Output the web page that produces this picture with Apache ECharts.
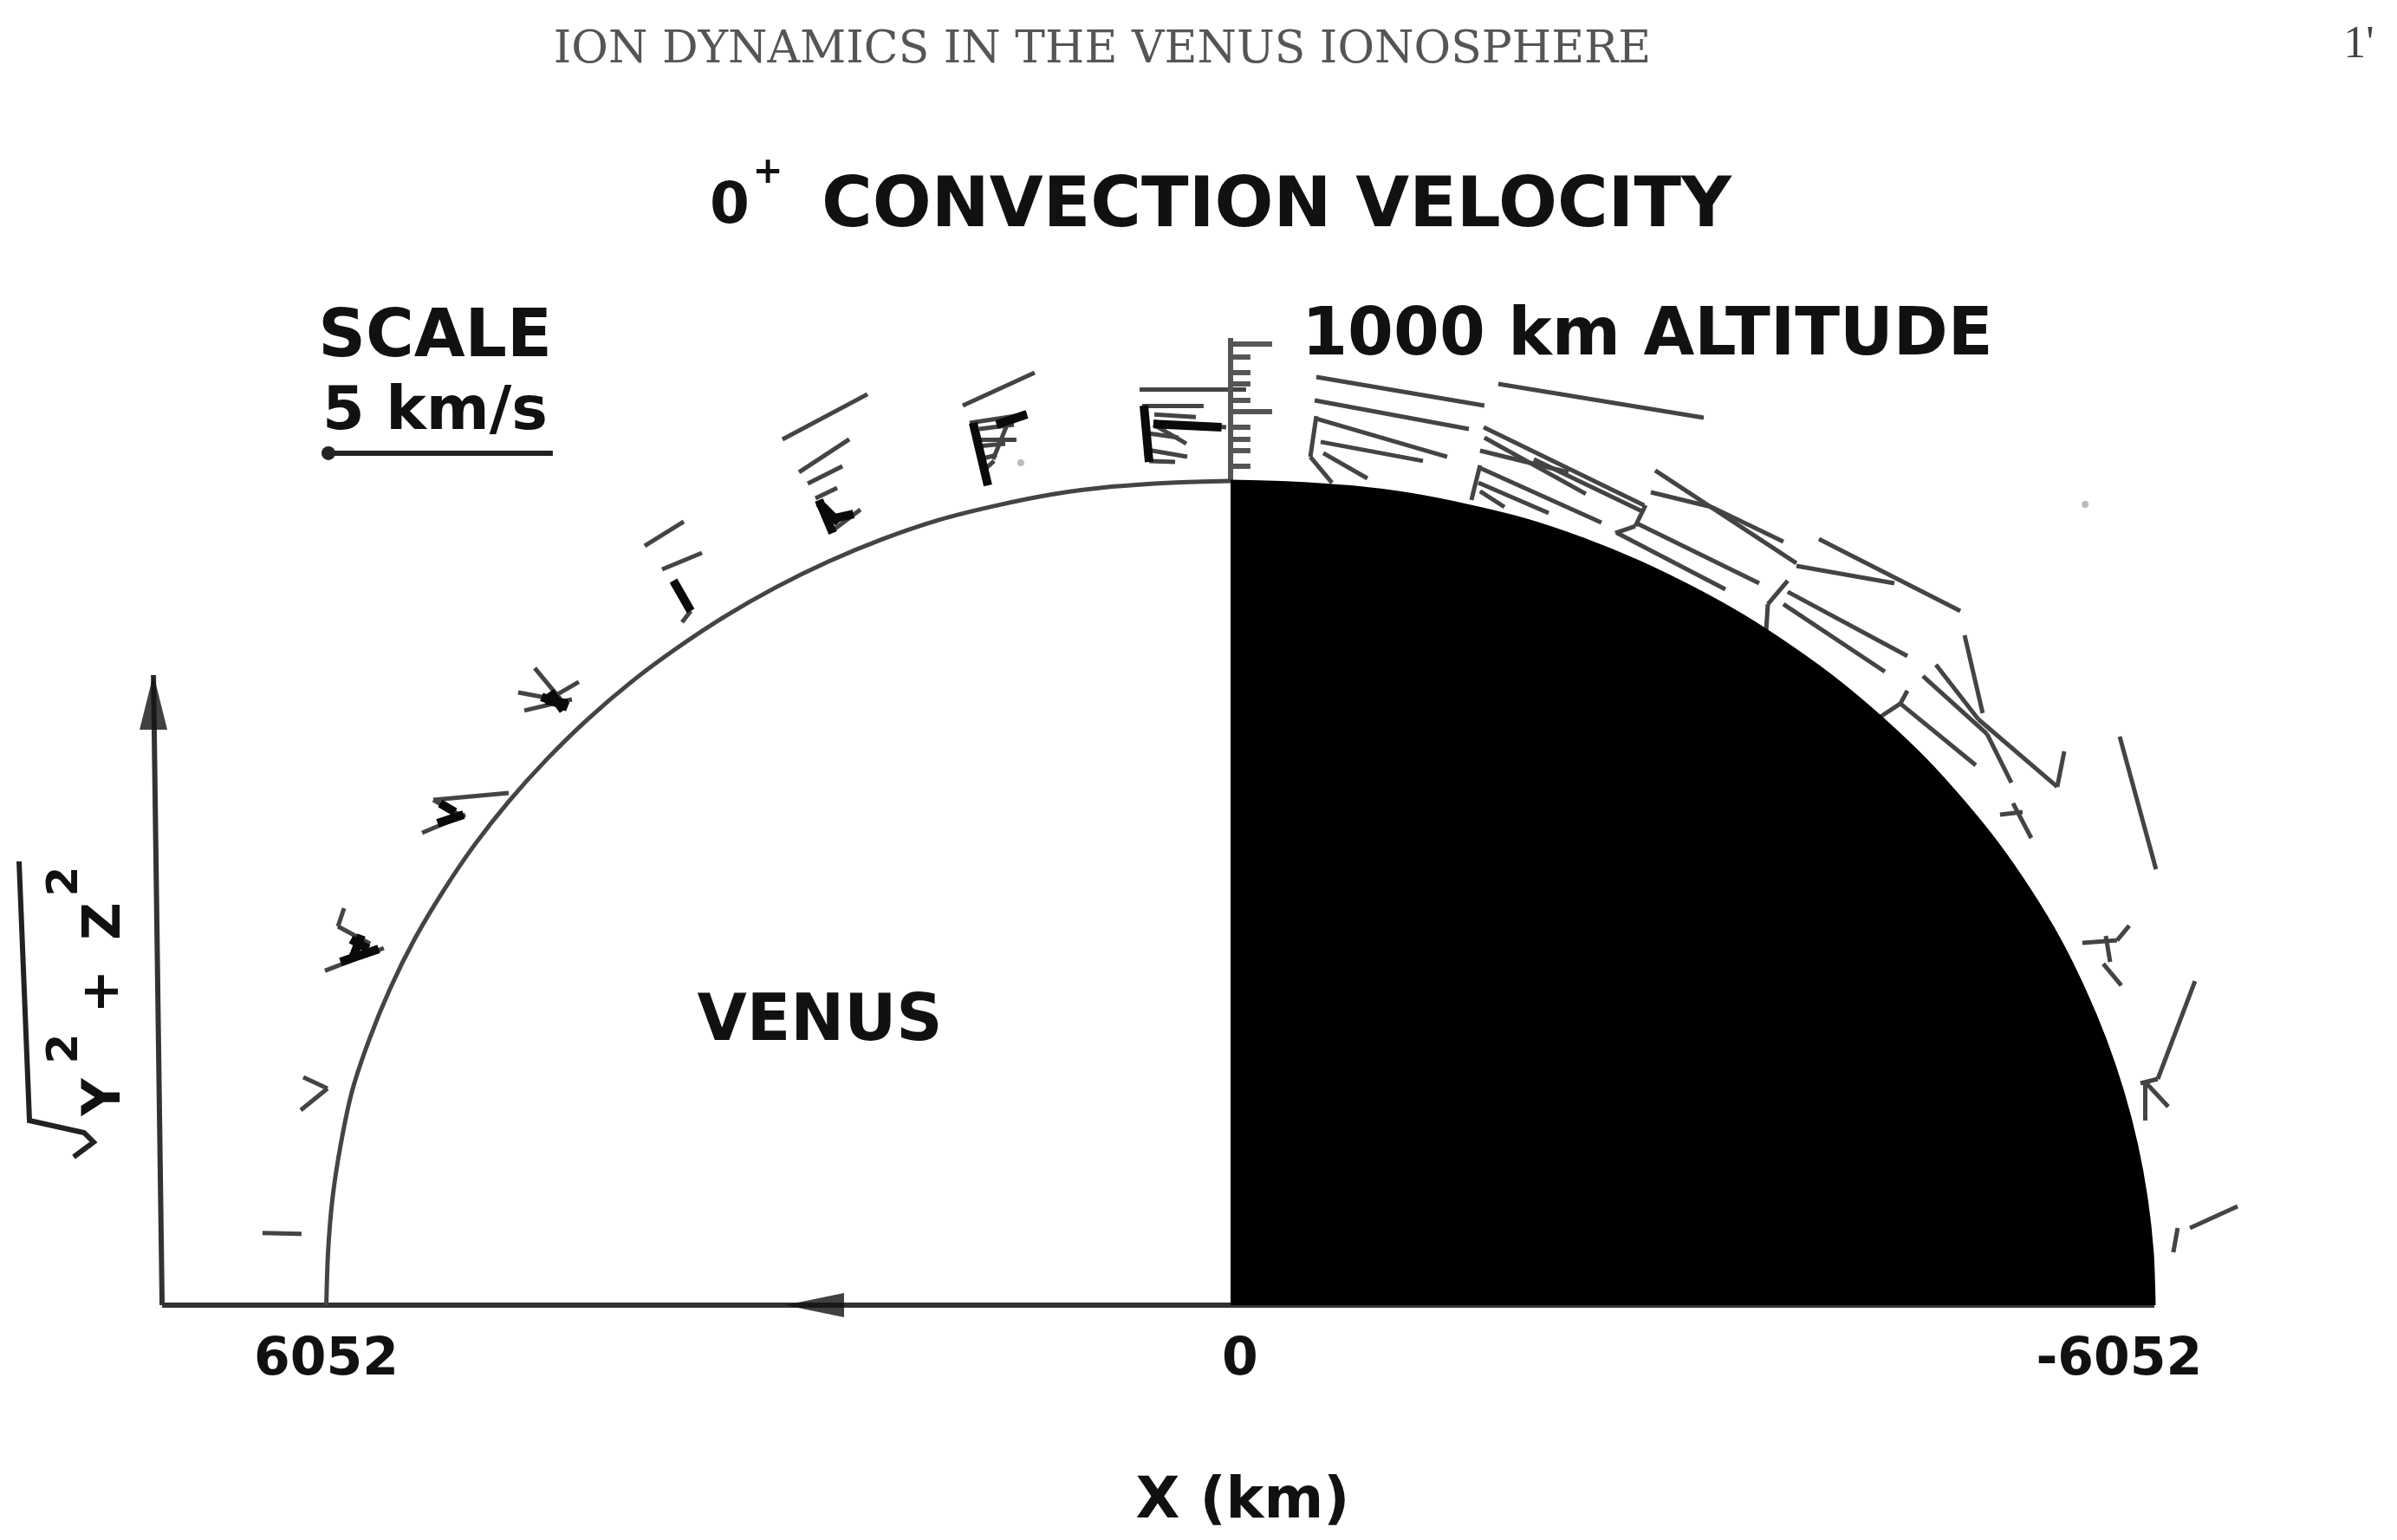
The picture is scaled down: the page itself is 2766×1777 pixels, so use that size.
<!DOCTYPE html>
<html>
<head>
<meta charset="utf-8">
<title>O+ convection velocity</title>
<script src="https://cdn.jsdelivr.net/npm/echarts@6/dist/echarts.min.js"></script>
<style>
html,body{margin:0;padding:0;background:#fff;}
#main{width:2766px;height:1777px;}
</style>
</head>
<body>
<div id="main"></div>
<script>
// planet outline in km
var nightX = [6052,6040,6010,5955,5880,5765,5625,5460,5270,5060,4830,4575,4305,4012,3705,3380,3045,2692,2330,1955,1575,1187,795,396,0];
var nightY = [0,396,790,1183,1570,1950,2325,2690,3040,3380,3700,4010,4300,4575,4825,5060,5270,5460,5625,5765,5870,5955,6010,6040,6052];
var dayX = [0,-404,-807,-1206,-1600,-1987,-2366,-2735,-3091,-3435,-3764,-4076,-4372,-4648,-4905,-5141,-5355,-5546,-5712,-5855,-5972,-6064,-6130,-6170,-6183];
var dayY = [6052,6040,6010,5955,5870,5765,5625,5460,5270,5060,4825,4575,4300,4012,3700,3380,3040,2692,2325,1950,1570,1183,790,396,0];
var tickValues = [6052,0,-6052];

// velocity vectors: x1,y1,x2,y2 in km
var dayVectors = [
	[-574,6816,-1699,6606],[-563,6644,-1595,6434],[-574,6510,-1450,6230],[-603,6339,-1288,6199],
	[-621,6256,-916,6071],[-574,6529,-534,6230],[-534,6230,-679,6039],[-1792,6765,-3167,6517],
	[-1694,6447,-2767,5874],[-1699,6370,-2378,5957],[-1670,6275,-2262,6116],[-2030,6211,-2755,5829],
	[-1670,6148,-2482,5747],[-1659,6039,-2129,5817],[-1670,5976,-1833,5861],[-1670,6167,-1612,5912],
	[-2778,5874,-2709,5721],[-2709,5721,-2575,5670],[-2709,5747,-3538,5301],[-2587,5670,-3312,5257],
	[-2842,6129,-3787,5448],[-2813,5969,-3219,5861],[-3219,5861,-3700,5607],[-3787,5428,-4443,5301],
	[-3938,5626,-4884,5098],[-3729,5320,-3596,5148],[-3596,5148,-3584,4938],[-3729,5238,-4530,4767],
	[-3700,5148,-4379,4652],[-4721,4703,-5005,4302],[-5005,4302,-5533,3806],[-4634,4620,-5063,4194],
	[-5063,4194,-5226,3837],[-4913,4919,-5034,4347],[-5580,4067,-5533,3806],[-5951,4175,-6194,3201],
	[-4530,4512,-4483,4417],[-4483,4417,-4350,4321],[-4483,4417,-4988,3965],[-5237,3685,-5359,3430],
	[-5150,3602,-5301,3621],[-5701,2660,-5933,2679],[-5933,2679,-6015,2787],[-5858,2711,-5887,2520],
	[-5841,2507,-5962,2348],[-6455,2380,-6206,1661],[-6090,1629,-6206,1661],[-6119,1642,-6119,1356],
	[-6119,1642,-6276,1457],[-6740,725,-6421,566],[-6339,566,-6310,388]
];
var nightVectors = [
	[609,6727,-104,6727],[592,6606,180,6606],[516,6485,29,6447],[516,6466,296,6326],[545,6199,371,6192],
	[551,6402,348,6370],[510,6540,232,6521],[551,6280,290,6230],[1311,6848,1792,6606],[1363,6542,1746,6479],
	[1433,6358,1723,6358],[1479,6510,1589,6211],[1682,6434,1450,6466],[1694,6307,1508,6326],[1682,6211,1566,6243],
	[1665,6116,1583,6199],[2430,6689,2999,6358],[2552,6358,2888,6116],[2598,6160,2830,6033],[2633,6001,2778,5925],
	[2477,5842,2662,5689],[3660,5753,3921,5575],[3538,5524,3805,5403],[3613,5098,3671,5015],[4657,4678,4483,4448],
	[4768,4499,4425,4429],[4727,4366,4408,4448],[4362,4576,4565,4448],[4831,3761,5336,3710],[5336,3710,5162,3602],
	[5121,3602,5411,3468],[5933,2915,5974,2781],[5974,2781,5759,2654],[5667,2622,6061,2456],[6206,1674,6044,1591],
	[6044,1591,6223,1432],[6479,530,6218,524]
];
// the vectors that run together into thick strokes
var heavyVectors = [
	[580,6606,545,6192],[516,6470,60,6447],[1723,6479,1624,6020],[1566,6466,1363,6542],[2755,5912,2662,5670],
	[2755,5893,2622,5747],[2697,5766,2523,5810],[3729,5320,3613,5098],[4582,4442,4437,4417],[4611,4467,4437,4391],
	[4553,4506,4466,4366],[5290,3685,5191,3621],[5307,3538,5133,3602],[5817,2717,5875,2552],[5957,2520,5701,2616],
	[5887,2686,5771,2616]
];
// altitude ruler above the subsolar point
var rulerY = [7058,6962,6848,6765,6644,6561,6447,6358,6275,6160];
var rulerLen = [278,133,133,133,133,278,133,133,133,133];
var rulerTop = 7102;

var scaleBar = [6038,6256,4536,6256];
var xAxisLine = [7151,0,-6183,0];
var yAxisLine = [7151,0,7209,4627];
var arrowHeads = [[7209,4429],[2784,0]];
var specks = [[-5631,1891],[-5720,5880],[1404,6185]];

function toLines(list){
	var out = [];
	for(var i=0;i<list.length;i++){
		out.push({coords:[[list[i][0],list[i][1]],[list[i][2],list[i][3]]]});
	}
	return out;
}

var rulerLines = [[0,6052,0,rulerTop]];
for(var r=0;r<rulerY.length;r++){
	rulerLines.push([0,rulerY[r],-rulerLen[r],rulerY[r]]);
}

function text(str,x,y,font,color,rot){
	return {
		type:'text',x:x,y:y,rotation:rot||0,silent:true,
		style:{text:str,font:font,fill:color||'#111',align:'center',verticalAlign:'middle'}
	};
}
function bold(size){
	return 'bold '+size+'px "DejaVu Sans"';
}
var labels = [
	text('ION DYNAMICS IN THE VENUS IONOSPHERE',1272,58,'52px "DejaVu Serif"','#555'),
	text("1'",2722,52,'52px "Liberation Serif"','#444'),
	text('0',842,240,bold(66)),
	text('+',886,200,bold(42)),
	text('CONVECTION VELOCITY',1473,240,bold(80)),
	text('SCALE',502,391,bold(76)),
	text('5 km/s',502,477,bold(70)),
	text('1000 km ALTITUDE',1901,389,bold(76)),
	text('VENUS',946,1181,bold(74)),
	text('X (km)',1434,1734,bold(66)),
	text('Y',122,1266,bold(60),null,Math.PI/2),
	text('2',76,1210,bold(50),null,Math.PI/2),
	text('+',120,1144,bold(60),null,Math.PI/2),
	text('Z',122,1063,bold(60),null,Math.PI/2),
	text('2',76,1017,bold(50),null,Math.PI/2),
	{
		type:'polyline',silent:true,
		shape:{points:[[22,994],[34,1293],[97,1307],[108,1318],[85,1335]]},
		style:{stroke:'#222',lineWidth:6,fill:null}
	}
];

var myChart = echarts.init(document.getElementById('main'));
var tickStyle = {fontSize:60,fontWeight:'bold',fontFamily:'DejaVu Sans',color:'#111'};
var option = {
	animation:false,
	backgroundColor:'#fff',
	grid:{left:0,right:0,top:0,bottom:271,outerBoundsMode:'none'},
	xAxis:{
		type:'value',inverse:true,min:-7807,max:8236,
		axisLine:{show:false},
		axisTick:{show:false},
		splitLine:{show:false},
		axisLabel:{
			customValues:tickValues,
			margin:34,
			formatter:function(v){
				if(v==-6052) return '{a|-6052}';
				if(v==0) return '{b|0}';
				return '{c|6052}';
			},
			rich:{
				a:Object.assign({padding:[0,36,0,0]},tickStyle),
				b:Object.assign({padding:[0,0,0,22]},tickStyle),
				c:tickStyle
			}
		}
	},
	yAxis:{
		type:'value',min:0,max:9584,
		axisLine:{show:false},axisTick:{show:false},axisLabel:{show:false},splitLine:{show:false}
	},
	graphic:{elements:labels},
	series:[
		{
			name:'night',type:'line',smooth:0.3,symbol:'none',
			data:nightX.map(function(x,i){return [x,nightY[i]];}),
			lineStyle:{color:'#444',width:5}
		},
		{
			name:'day',type:'line',smooth:0.3,symbol:'none',
			data:dayX.map(function(x,i){return [x,dayY[i]];}),
			lineStyle:{color:'#000',width:3},
			areaStyle:{color:'#000',opacity:1}
		},
		{
			name:'vectors',type:'lines',coordinateSystem:'cartesian2d',
			data:toLines(dayVectors.concat(nightVectors)),
			lineStyle:{color:'#444',width:5,opacity:1}
		},
		{
			name:'heavy',type:'lines',coordinateSystem:'cartesian2d',
			data:toLines(heavyVectors),
			lineStyle:{color:'#0a0a0a',width:10,opacity:1}
		},
		{
			name:'ruler',type:'lines',coordinateSystem:'cartesian2d',
			data:toLines(rulerLines),
			lineStyle:{color:'#555',width:6,opacity:1}
		},
		{
			name:'axes',type:'lines',coordinateSystem:'cartesian2d',
			data:toLines([xAxisLine,yAxisLine]),
			lineStyle:{color:'#333',width:6,opacity:1}
		},
		{
			name:'scale',type:'lines',coordinateSystem:'cartesian2d',
			symbol:['circle','none'],symbolSize:16,
			data:toLines([scaleBar]),
			lineStyle:{color:'#222',width:6,opacity:1}
		},
		{
			name:'arrows',type:'scatter',symbol:'triangle',
			data:[
				{value:arrowHeads[0],symbolSize:[32,64],symbolRotate:0},
				{value:arrowHeads[1],symbolSize:[28,68],symbolRotate:90}
			],
			itemStyle:{color:'#111'}
		},
		{
			name:'specks',type:'scatter',symbol:'circle',symbolSize:8,
			data:specks,
			itemStyle:{color:'#aaa'}
		}
	]
};
myChart.setOption(option);
</script>
</body>
</html>
